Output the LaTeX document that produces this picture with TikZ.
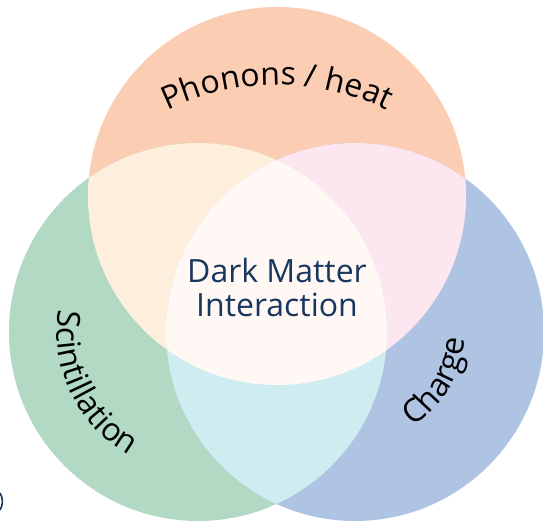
\documentclass[tikz,border=0pt]{standalone}
\usepackage{fontspec}
\setmainfont{Open Sans}
\usetikzlibrary{decorations.text}
\definecolor{peach}{HTML}{FBCDB3}
\definecolor{sage}{HTML}{B2D9C4}
\definecolor{sky}{HTML}{AFC4E3}
\definecolor{cream}{HTML}{FEEFDD}
\definecolor{blush}{HTML}{FCE6EF}
\definecolor{aqua}{HTML}{CFECF0}
\definecolor{core}{HTML}{FFF8F5}
\definecolor{navy}{HTML}{17375E}
\newcommand{\lblfont}{\fontsize{32}{38}\selectfont}
\begin{document}
\begin{tikzpicture}[x=1pt,y=1pt,
  ring/.style={radius=189},
  curvedlabel/.style={decorate, decoration={text along path, text={|\lblfont|#1}, text align=center, text color=black}},
  centerlabel/.style={text=navy, font=\fontsize{32}{35}\selectfont, anchor=base, inner sep=0pt}]
\useasboundingbox (0,0) rectangle (543,521);
\coordinate (T) at (277,325);
\coordinate (L) at (198,189);
\coordinate (R) at (355,189);
% circles
\fill[peach] (T) circle[ring];
\fill[sage] (L) circle[ring];
\fill[sky] (R) circle[ring];
% pairwise overlaps
\begin{scope}\clip (T) circle[ring]; \fill[cream] (L) circle[ring]; \end{scope}
\begin{scope}\clip (T) circle[ring]; \fill[blush] (R) circle[ring]; \end{scope}
\begin{scope}\clip (L) circle[ring]; \fill[aqua] (R) circle[ring]; \end{scope}
% triple overlap
\begin{scope}\clip (T) circle[ring]; \clip (L) circle[ring]; \fill[core] (R) circle[ring]; \end{scope}
% curved labels
\coordinate (PC) at (277,186);
\path[curvedlabel={Phonons / heat}] (PC) ++(130:250) arc[start angle=130, end angle=50, radius=250];
\path[curvedlabel={Scintillation}] (L) ++(160:141) arc[start angle=160, end angle=252, radius=141];
\path[curvedlabel={Charge}] (R) ++(280:110) arc[start angle=280, end angle=378, radius=110];
% centre label
\node[centerlabel] (dm1) at (277,238) {Dark Matter};
\node[centerlabel] (dm2) at (277,204) {Interaction};
% stray mark at the left edge
\draw[navy, line width=1.6] (0,28) .. controls (3.2,23) and (3.2,16) .. (0,11);
\end{tikzpicture}
\end{document}
